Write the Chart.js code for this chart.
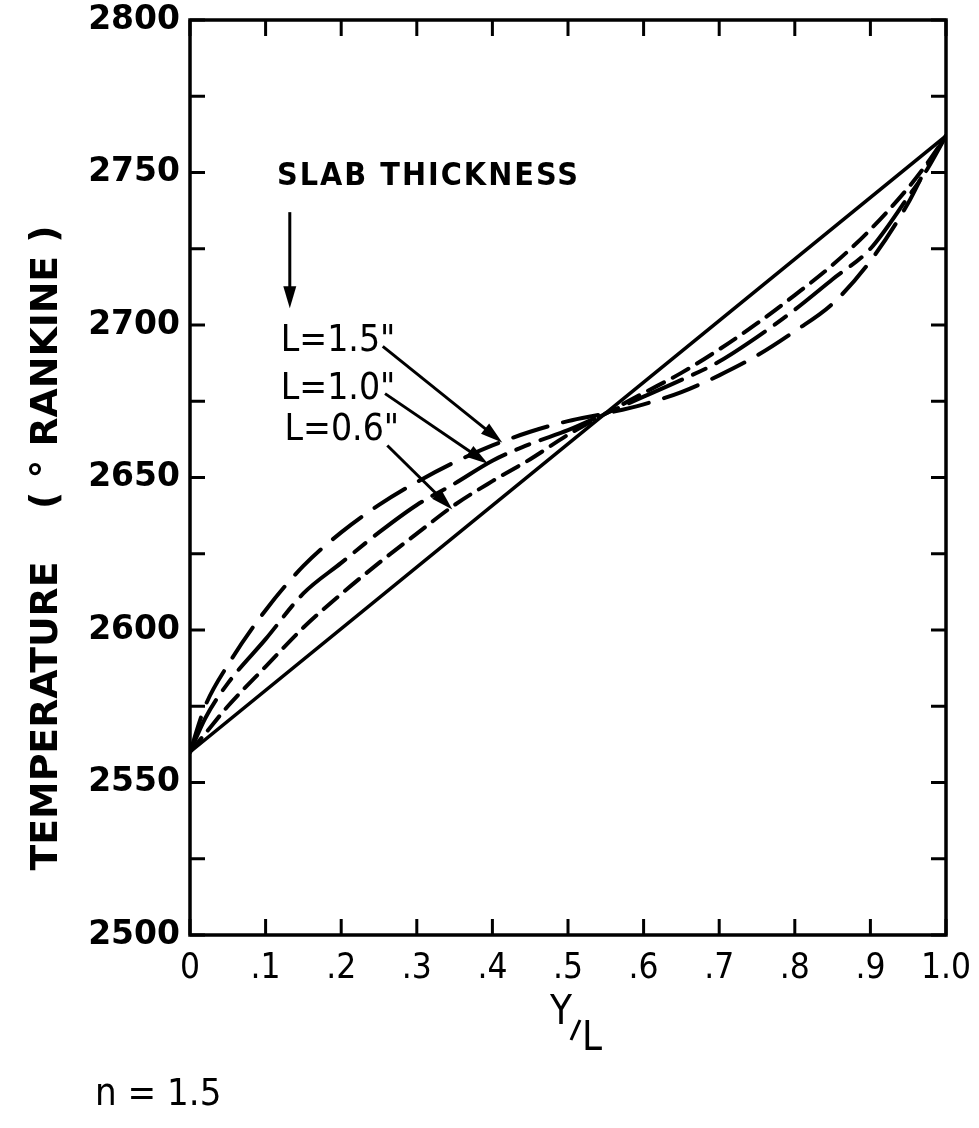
<!DOCTYPE html>
<html>
<head>
<meta charset="utf-8">
<script src="https://cdn.jsdelivr.net/npm/chart.js@4.4.1/dist/chart.umd.min.js"></script>
<style>
  html, body { margin: 0; padding: 0; background: #fff; }
  #caixa { width: 979px; height: 1128px; }
</style>
</head>
<body>
<div id="caixa"><canvas id="graficoPerfil"></canvas></div>
<script>
// Posicoes Y/L onde as curvas foram lidas
const posicoes = [0, 0.02, 0.05, 0.1, 0.15, 0.2, 0.25, 0.3, 0.35, 0.4, 0.45, 0.5, 0.55, 0.6, 0.65, 0.7, 0.75, 0.8, 0.85, 0.9, 0.95, 0.975, 1.0];

// Temperaturas (graus Rankine) para cada espessura de placa
const tempL15 = [2560, 2575, 2588.5, 2606.5, 2621, 2632, 2641, 2648.5, 2655, 2660.5, 2665, 2668.5, 2671, 2674, 2678, 2683.5, 2690, 2698, 2707, 2721, 2740, 2752, 2762];
const tempL10 = [2560, 2571, 2582.5, 2597, 2612, 2622, 2632, 2641, 2648, 2655.5, 2661, 2665.5, 2671, 2676.5, 2682, 2688, 2696, 2705, 2715, 2725, 2742, 2751, 2762];
const tempL06 = [2560, 2566, 2575, 2588, 2600.8, 2611.8, 2622, 2631.6, 2641, 2648.8, 2656, 2664, 2671, 2677.7, 2684.3, 2692, 2700.5, 2709.8, 2719.7, 2731.3, 2745, 2753, 2762];

// Perfil linear (linha cheia)
const posLinear = [0, 1];
const tempLinear = [2560, 2762];

// Rotulos dos eixos
const valoresX = [0, 0.1, 0.2, 0.3, 0.4, 0.5, 0.6, 0.7, 0.8, 0.9, 1.0];
const rotulosX = ['0', '.1', '.2', '.3', '.4', '.5', '.6', '.7', '.8', '.9', '1.0'];
const rotulosY = [2500, 2550, 2600, 2650, 2700, 2750, 2800];

function pontos(xs, ys) {
    return xs.map((v, i) => ({ x: v, y: ys[i] }));
}

// Desenha moldura, tracos internos e anotacoes
const moldura = {
    id: 'moldura',
    afterDraw(chart) {
        const { ctx, chartArea: a, scales: { x, y } } = chart;
        ctx.save();
        ctx.strokeStyle = '#000';
        ctx.fillStyle = '#000';
        ctx.lineCap = 'butt';

        // tracos
        ctx.lineWidth = 3;
        const traco = (x0, y0, x1, y1) => { ctx.beginPath(); ctx.moveTo(x0, y0); ctx.lineTo(x1, y1); ctx.stroke(); };
        y.ticks.forEach(t => {
            const py = y.getPixelForValue(t.value);
            traco(a.left, py, a.left + 15, py);
            traco(a.right - 15, py, a.right, py);
        });
        x.ticks.forEach(t => {
            const px = x.getPixelForValue(t.value);
            traco(px, a.bottom, px, a.bottom - 16);
            traco(px, a.top, px, a.top + 16);
        });

        // moldura
        ctx.lineWidth = 3.5;
        ctx.strokeRect(a.left, a.top, a.right - a.left, a.bottom - a.top);

        // setas
        const seta = (vx0, vy0, vx1, vy1, cab) => {
            const x0 = x.getPixelForValue(vx0), y0 = y.getPixelForValue(vy0);
            const x1 = x.getPixelForValue(vx1), y1 = y.getPixelForValue(vy1);
            const ang = Math.atan2(y1 - y0, x1 - x0);
            ctx.lineWidth = 3;
            traco(x0, y0, x1 - Math.cos(ang) * cab * 0.6, y1 - Math.sin(ang) * cab * 0.6);
            ctx.beginPath();
            ctx.moveTo(x1, y1);
            ctx.lineTo(x1 - cab * Math.cos(ang) + 6.5 * Math.sin(ang), y1 - cab * Math.sin(ang) - 6.5 * Math.cos(ang));
            ctx.lineTo(x1 - cab * Math.cos(ang) - 6.5 * Math.sin(ang), y1 - cab * Math.sin(ang) + 6.5 * Math.cos(ang));
            ctx.closePath();
            ctx.fill();
        };
        seta(0.132, 2737, 0.132, 2705.5, 22);
        seta(0.255, 2693, 0.413, 2661.5, 22);
        seta(0.258, 2677.5, 0.394, 2654.5, 22);
        seta(0.261, 2660.5, 0.347, 2639.5, 22);

        // textos
        ctx.textBaseline = 'middle';
        ctx.textAlign = 'left';
        ctx.font = 'bold 32px "DejaVu Sans Condensed", "DejaVu Sans"';
        ctx.letterSpacing = '2px';
        ctx.fillText('SLAB THICKNESS', x.getPixelForValue(0.115), y.getPixelForValue(2748.5));
        ctx.font = '37px "DejaVu Sans Condensed", "DejaVu Sans"';
        ctx.letterSpacing = '0px';
        ctx.fillText('L=1.5"', x.getPixelForValue(0.12), y.getPixelForValue(2694.5));
        ctx.fillText('L=1.0"', x.getPixelForValue(0.12), y.getPixelForValue(2679));
        ctx.fillText('L=0.6"', x.getPixelForValue(0.125), y.getPixelForValue(2665.3));

        // titulo do eixo Y
        ctx.save();
        ctx.translate(47, 548);
        ctx.rotate(-Math.PI / 2);
        ctx.textAlign = 'center';
        ctx.font = 'bold 37px "DejaVu Sans Condensed", "DejaVu Sans"';
        const tituloY = 'TEMPERATURE    ( ° RANKINE )';
        const larg = ctx.measureText(tituloY).width;
        ctx.scale(645 / larg, 1);
        ctx.fillText(tituloY, 0, 0);
        ctx.restore();

        // titulo do eixo X: Y/L
        ctx.font = '40px "DejaVu Sans Condensed", "DejaVu Sans"';
        ctx.textAlign = 'center';
        ctx.fillText('Y', 561, 1014);
        ctx.lineWidth = 3;
        traco(571, 1040, 580, 1020);
        ctx.fillText('L', 592, 1040);

        // rodape
        ctx.textAlign = 'left';
        ctx.font = '38px "DejaVu Sans Condensed", "DejaVu Sans"';
        ctx.fillText('n = 1.5', 95, 1095);
        ctx.restore();
    }
};

const ctx = document.getElementById('graficoPerfil').getContext('2d');

const linha = (rotulo, dados, tracejado, larg) => ({
    label: rotulo,
    data: dados,
    borderColor: '#000',
    borderWidth: larg,
    borderDash: tracejado,
    borderCapStyle: 'round',
    pointRadius: 0,
    fill: false,
    cubicInterpolationMode: 'monotone'
});

// zera o recuo que o Chart.js reserva para os rotulos que transbordam
function semRecuo(s) {
    s.paddingTop = 0;
    s.paddingBottom = 0;
    s.paddingLeft = 0;
    s.paddingRight = 0;
}

const meuGrafico = new Chart(ctx, {
    type: 'line',
    data: {
        datasets: [
            linha('Linear', pontos(posLinear, tempLinear), [], 3.5),
            linha('L=1.5"', pontos(posicoes, tempL15), [36, 16], 4),
            linha('L=1.0"', pontos(posicoes, tempL10), [58, 12, 14, 12], 4),
            linha('L=0.6"', pontos(posicoes, tempL06), [18, 10], 4)
        ]
    },
    options: {
        responsive: true,
        maintainAspectRatio: false,
        animation: false,
        events: [],
        layout: { padding: { top: 20, right: 33, left: 0, bottom: 0 } },
        plugins: {
            legend: { display: false },
            tooltip: { enabled: false }
        },
        scales: {
            x: {
                type: 'linear',
                min: 0,
                max: 1,
                afterFit: s => { s.height = 193; semRecuo(s); },
                afterBuildTicks: s => { s.ticks = valoresX.map(v => ({ value: v })); },
                grid: { display: false, drawTicks: false },
                border: { display: false },
                ticks: {
                    padding: 13,
                    color: '#000',
                    maxRotation: 0,
                    autoSkip: false,
                    font: { family: '"DejaVu Sans Condensed", "DejaVu Sans"', size: 35 },
                    callback: function(value) {
                        const i = valoresX.findIndex(v => Math.abs(v - value) < 1e-6);
                        return i >= 0 ? rotulosX[i] : '';
                    }
                }
            },
            y: {
                type: 'linear',
                min: 2500,
                max: 2800,
                afterFit: s => { s.width = 190; semRecuo(s); },
                grid: { display: false, drawTicks: false },
                border: { display: false },
                ticks: {
                    stepSize: 25,
                    padding: 10,
                    color: '#000',
                    autoSkip: false,
                    font: { family: '"DejaVu Sans"', size: 33, weight: 'bold' },
                    callback: function(value) {
                        return rotulosY.includes(value) ? String(value) : '';
                    }
                }
            }
        }
    },
    plugins: [moldura]
});
</script>
</body>
</html>
